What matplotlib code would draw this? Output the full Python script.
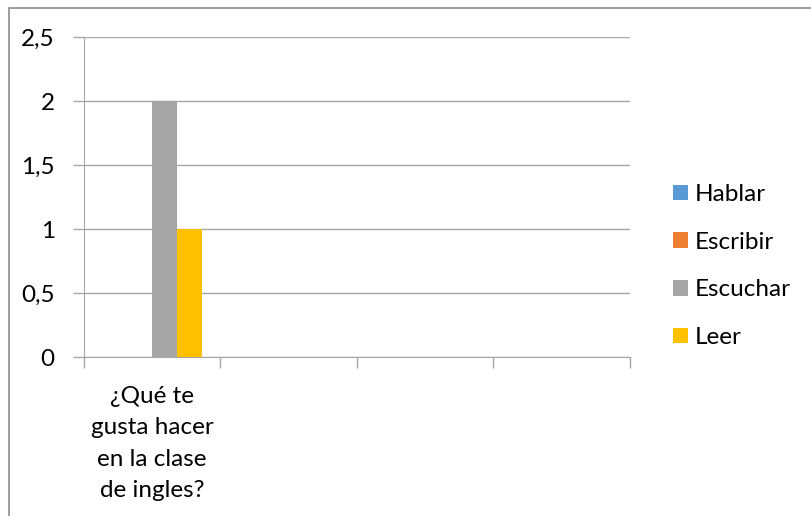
import numpy as np
import matplotlib.pyplot as plt
from matplotlib.patches import Rectangle

# data
categories = ["¿Qué te\ngusta hacer\nen la clase\nde ingles?", "", "", ""]
series_names = ["Hablar", "Escribir", "Escuchar", "Leer"]
hablar = [0, 0, 0, 0]
escribir = [0, 0, 0, 0]
escuchar = [2, 0, 0, 0]
leer = [1, 0, 0, 0]
y_ticks = [0, 0.5, 1, 1.5, 2, 2.5]
y_labels = ["0", "0,5", "1", "1,5", "2", "2,5"]

colors = ["#5B9BD5", "#ED7D31", "#A5A5A5", "#FFC000"]
grid_col = "#A6A6A6"
fs = 17.5

plt.rcParams["font.family"] = ["Lato", "DejaVu Sans"]
W, H = 812, 516
fig = plt.figure(figsize=(W / 100, H / 100), dpi=100)
ax = fig.add_axes([84 / W, 1 - 357 / H, (630 - 84) / W, (357 - 37) / H])

# outer chart border (cut off at right and bottom like the reference)
fig.patches.append(Rectangle((9 / W, -0.05), 1.1, 1 - 8 / H + 0.05,
                             transform=fig.transFigure, fill=False,
                             edgecolor="#8C8C8C", linewidth=1.2))

x = np.arange(len(categories)) + 0.5
w = 0.183
all_series = [hablar, escribir, escuchar, leer]
for i, (name, vals) in enumerate(zip(series_names, all_series)):
    ax.bar(x + (i - 1.5) * w, vals, width=w, color=colors[i], label=name, zorder=3)

ax.set_xlim(0, len(categories))
ax.set_ylim(0, 2.5)
ax.set_yticks(y_ticks)
ax.set_yticklabels(y_labels, fontsize=fs)
ax.yaxis.grid(True, color=grid_col, linewidth=1)
ax.set_axisbelow(True)

# category boundaries as major ticks, labels on minor ticks
ax.set_xticks(np.arange(len(categories) + 1))
ax.set_xticklabels([])
ax.set_xticks(x, minor=True)
ax.set_xticklabels(categories, minor=True, fontsize=fs, linespacing=1.6)
ax.tick_params(axis="x", which="minor", length=0, pad=21)
ax.tick_params(axis="x", which="major", length=8, color=grid_col, width=1)
ax.tick_params(axis="y", length=8, color=grid_col, width=1, pad=13)

for s in ["top", "right"]:
    ax.spines[s].set_visible(False)
ax.spines["left"].set_color(grid_col)
ax.spines["bottom"].set_color(grid_col)

ax.legend(loc="center left", bbox_to_anchor=(673 / W, 1 - 266 / H),
          bbox_transform=fig.transFigure, frameon=False, fontsize=fs,
          handlelength=0.6, handleheight=0.6, handletextpad=0.3,
          labelspacing=1.1, borderaxespad=0, borderpad=0)

fig.savefig("out.png", dpi=100)
